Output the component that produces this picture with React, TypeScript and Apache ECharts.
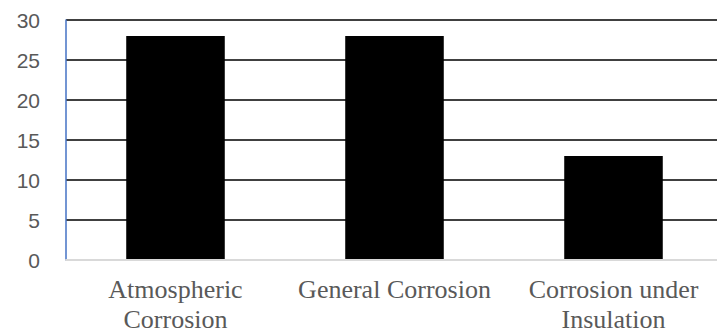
import React, { useEffect, useRef } from "react";
import * as echarts from "echarts";

const categories = ["Atmospheric\nCorrosion", "General Corrosion", "Corrosion under\nInsulation"];
const values = [28, 28, 13];

export default function App() {
  const ref = useRef<HTMLDivElement>(null);
  useEffect(() => {
    document.body.style.margin = "0";
    const chart = echarts.init(ref.current!, null, { renderer: "svg" });
    chart.setOption({
      animation: false,
      backgroundColor: "#ffffff",
      grid: { left: 66, right: 7, top: 20, bottom: 74, containLabel: false },
      xAxis: {
        type: "category",
        data: categories,
        axisLine: { show: true, lineStyle: { color: "#d9d9d9", width: 2 } },
        axisTick: { show: false },
        axisLabel: {
          interval: 0,
          margin: 14,
          color: "#595959",
          fontFamily: "Liberation Serif",
          fontSize: 26,
          lineHeight: 30,
        },
        z: 5,
      },
      yAxis: {
        type: "value",
        min: 0,
        max: 30,
        interval: 5,
        axisLine: { show: true, lineStyle: { color: "#4472C4", width: 1.5 } },
        axisTick: { show: false },
        axisLabel: {
          margin: 26,
          color: "#595959",
          fontFamily: "Liberation Sans",
          fontSize: 21,
        },
        splitLine: { show: true, lineStyle: { color: "#000000", width: 1.5 } },
      },
      series: [
        {
          type: "bar",
          data: values,
          barWidth: "45%",
          itemStyle: { color: "#000000" },
        },
      ],
    });
    return () => chart.dispose();
  }, []);
  return (
    <div style={{ width: 717, height: 334, overflow: "hidden", position: "relative" }}>
      <div ref={ref} style={{ width: 730, height: 334 }} />
    </div>
  );
}
